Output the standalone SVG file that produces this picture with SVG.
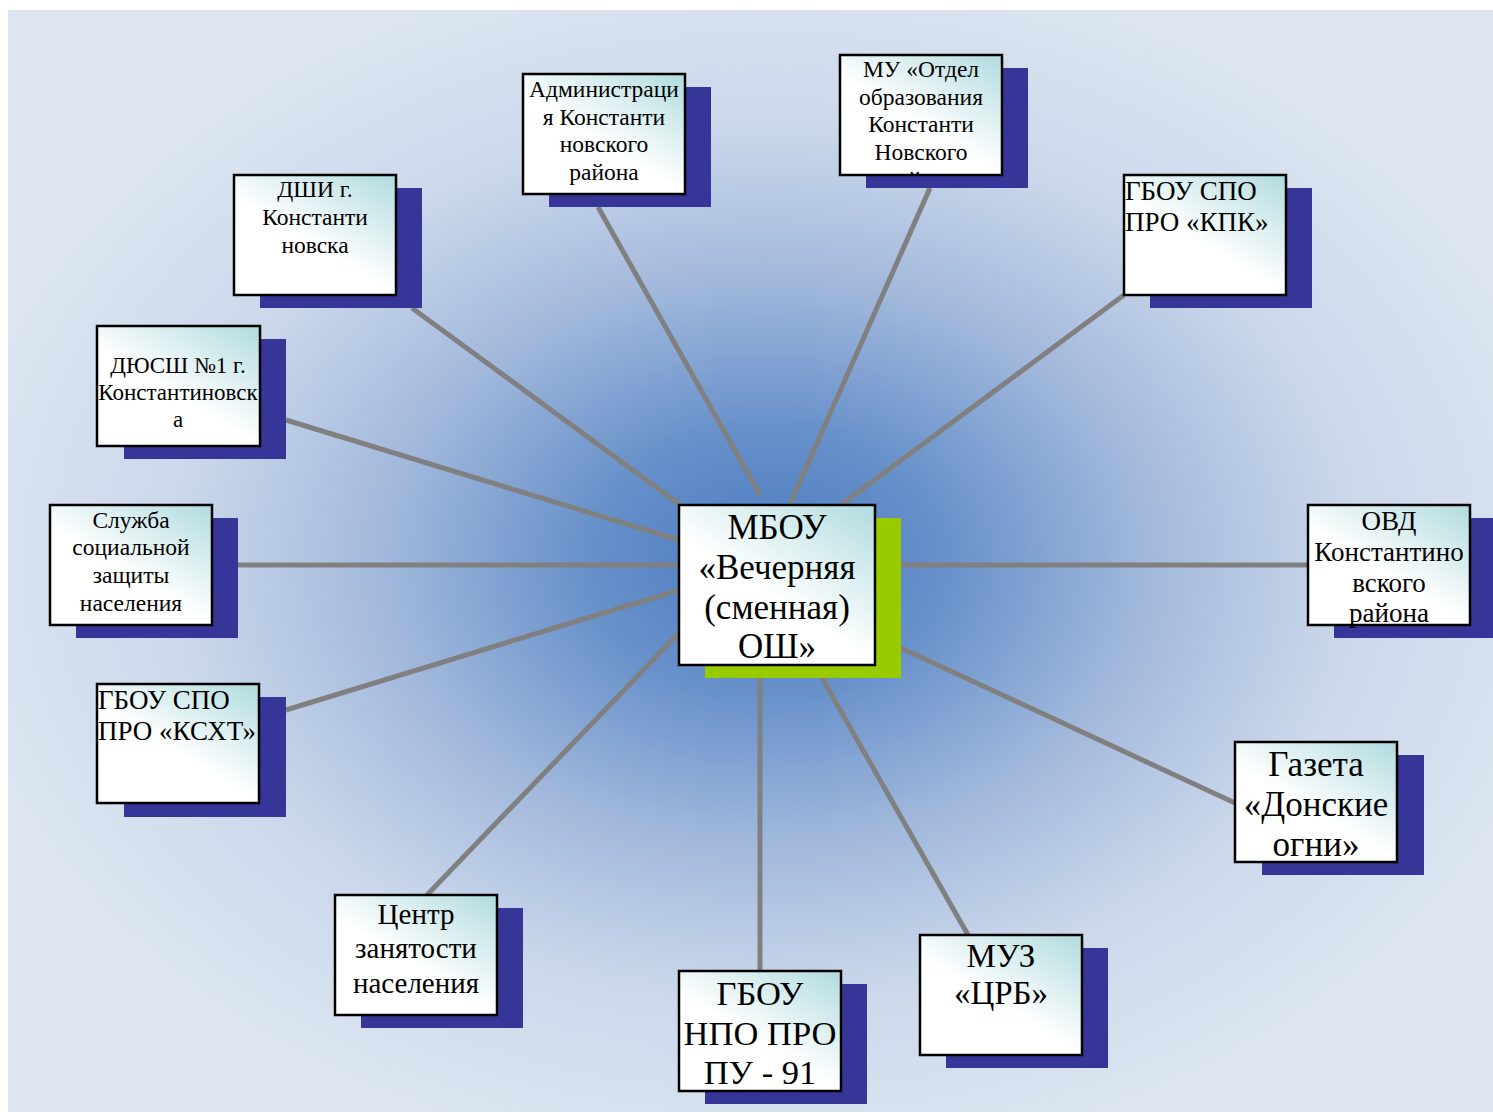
<svg xmlns="http://www.w3.org/2000/svg" width="1493" height="1112" viewBox="0 0 1493 1112">
<defs>
<radialGradient id="bg" cx="0.51" cy="0.5" r="0.55" fx="0.51" fy="0.5">
<stop offset="0" stop-color="#4a7bc0"/>
<stop offset="0.22" stop-color="#6891ca"/>
<stop offset="0.47" stop-color="#a2b9dc"/>
<stop offset="0.72" stop-color="#cbd8eb"/>
<stop offset="1" stop-color="#dce5f1"/>
</radialGradient>
<linearGradient id="boxfill" x1="1" y1="0" x2="0.2" y2="1">
<stop offset="0" stop-color="#b0dbde"/>
<stop offset="0.6" stop-color="#ffffff"/>
<stop offset="1" stop-color="#ffffff"/>
</linearGradient>
<clipPath id="muclip"><rect x="841" y="56" width="160" height="118"/></clipPath>
</defs>
<style>
.box{fill:url(#boxfill);stroke:#000;stroke-width:2.5}
.sh{fill:#363699}
.shg{fill:#99cc00}
.t{font-family:"Liberation Serif","Times New Roman",serif;fill:#000;text-anchor:middle}
.tl{font-family:"Liberation Serif","Times New Roman",serif;fill:#000;text-anchor:start}
.s{font-size:23.5px}
.c{stroke:#808080;stroke-width:5;fill:none}
</style>
<rect x="0" y="0" width="1493" height="1112" fill="#ffffff"/>
<rect x="8" y="10" width="1485" height="1102" fill="url(#bg)"/>
<g id="connectors">
<line class="c" x1="598" y1="207" x2="760" y2="495"/>
<line class="c" x1="930" y1="188" x2="790" y2="504"/>
<line class="c" x1="412" y1="308" x2="679" y2="504"/>
<line class="c" x1="1124" y1="295" x2="842" y2="504"/>
<line class="c" x1="286" y1="420" x2="679" y2="540"/>
<line class="c" x1="238" y1="565" x2="679" y2="565"/>
<line class="c" x1="901" y1="565" x2="1308" y2="565"/>
<line class="c" x1="286" y1="710" x2="679" y2="590"/>
<line class="c" x1="901" y1="648" x2="1235" y2="803"/>
<line class="c" x1="427" y1="895" x2="679" y2="633"/>
<line class="c" x1="760" y1="678" x2="760" y2="971"/>
<line class="c" x1="822" y1="678" x2="968" y2="935"/>
</g>
<g id="center">
<rect class="shg" x="705" y="518" width="196" height="160"/>
<rect class="box" x="679" y="505" width="196" height="160"/>
<text class="t" font-size="35" x="777" y="539">МБОУ</text>
<text class="t" font-size="35" x="777" y="579">«Вечерняя</text>
<text class="t" font-size="35" x="777" y="619">(сменная)</text>
<text class="t" font-size="35" x="777" y="658">ОШ»</text>
</g>
<g id="admin">
<rect class="sh" x="549" y="87" width="162" height="120"/>
<rect class="box" x="523" y="74" width="162" height="120"/>
<text class="t s" x="604" y="97">Администраци</text>
<text class="t s" x="604" y="125">я Константи</text>
<text class="t s" x="604" y="152">новского</text>
<text class="t s" x="604" y="180">района</text>
</g>
<g id="mu">
<rect class="sh" x="866" y="68" width="162" height="120"/>
<rect class="box" x="840" y="55" width="162" height="120"/>
<g clip-path="url(#muclip)">
<text class="t s" x="921" y="77">МУ «Отдел</text>
<text class="t s" x="921" y="105">образования</text>
<text class="t s" x="921" y="132">Константи</text>
<text class="t s" x="921" y="160">Новского</text>
<text class="t s" x="921" y="188">района</text>
</g>
</g>
<g id="dshi">
<rect class="sh" x="260" y="188" width="162" height="120"/>
<rect class="box" x="234" y="175" width="162" height="120"/>
<text class="t s" x="315" y="197">ДШИ г.</text>
<text class="t s" x="315" y="225">Константи</text>
<text class="t s" x="315" y="253">новска</text>
</g>
<g id="kpk">
<rect class="sh" x="1150" y="188" width="162" height="120"/>
<rect class="box" x="1124" y="175" width="162" height="120"/>
<text class="tl" font-size="27" x="1125" y="200">ГБОУ СПО</text>
<text class="tl" font-size="27" x="1125" y="231">ПРО «КПК»</text>
</g>
<g id="dyussh">
<rect class="sh" x="124" y="339" width="162" height="120"/>
<rect class="box" x="97" y="326" width="163" height="120"/>
<text class="t" font-size="23" x="178" y="373">ДЮСШ №1 г.</text>
<text class="t" font-size="23" x="178" y="400">Константиновск</text>
<text class="t" font-size="23" x="178" y="427">а</text>
</g>
<g id="sluzhba">
<rect class="sh" x="76" y="518" width="162" height="120"/>
<rect class="box" x="50" y="505" width="162" height="120"/>
<text class="t s" x="131" y="528">Служба</text>
<text class="t s" x="131" y="555">социальной</text>
<text class="t s" x="131" y="583">защиты</text>
<text class="t s" x="131" y="611">населения</text>
</g>
<g id="ovd">
<rect class="sh" x="1334" y="518" width="162" height="120"/>
<rect class="box" x="1308" y="505" width="162" height="120"/>
<text class="t" font-size="27" x="1389" y="530">ОВД</text>
<text class="t" font-size="27" x="1389" y="561">Константино</text>
<text class="t" font-size="27" x="1389" y="592">вского</text>
<text class="t" font-size="27" x="1389" y="622">района</text>
</g>
<g id="ksht">
<rect class="sh" x="124" y="697" width="162" height="120"/>
<rect class="box" x="97" y="684" width="162" height="119"/>
<text class="tl" font-size="27" x="98" y="709">ГБОУ СПО</text>
<text class="tl" font-size="27" x="98" y="740">ПРО «КСХТ»</text>
</g>
<g id="gazeta">
<rect class="sh" x="1262" y="755" width="162" height="120"/>
<rect class="box" x="1235" y="742" width="162" height="120"/>
<text class="t" font-size="35" x="1316" y="776">Газета</text>
<text class="t" font-size="35" x="1316" y="816">«Донские</text>
<text class="t" font-size="35" x="1316" y="856">огни»</text>
</g>
<g id="tsentr">
<rect class="sh" x="361" y="908" width="162" height="120"/>
<rect class="box" x="335" y="895" width="162" height="120"/>
<text class="t" font-size="29" x="416" y="924">Центр</text>
<text class="t" font-size="29" x="416" y="958">занятости</text>
<text class="t" font-size="29" x="416" y="993">населения</text>
</g>
<g id="gbou-npo">
<rect class="sh" x="705" y="984" width="162" height="120"/>
<rect class="box" x="679" y="971" width="162" height="120"/>
<text class="t" font-size="34.5" x="760" y="1005">ГБОУ</text>
<text class="t" font-size="34.5" x="760" y="1045">НПО ПРО</text>
<text class="t" font-size="34.5" x="760" y="1084">ПУ - 91</text>
</g>
<g id="muz">
<rect class="sh" x="946" y="948" width="162" height="120"/>
<rect class="box" x="920" y="935" width="162" height="120"/>
<text class="t" font-size="33" x="1001" y="967">МУЗ</text>
<text class="t" font-size="33" x="1001" y="1004">«ЦРБ»</text>
</g>
</svg>
